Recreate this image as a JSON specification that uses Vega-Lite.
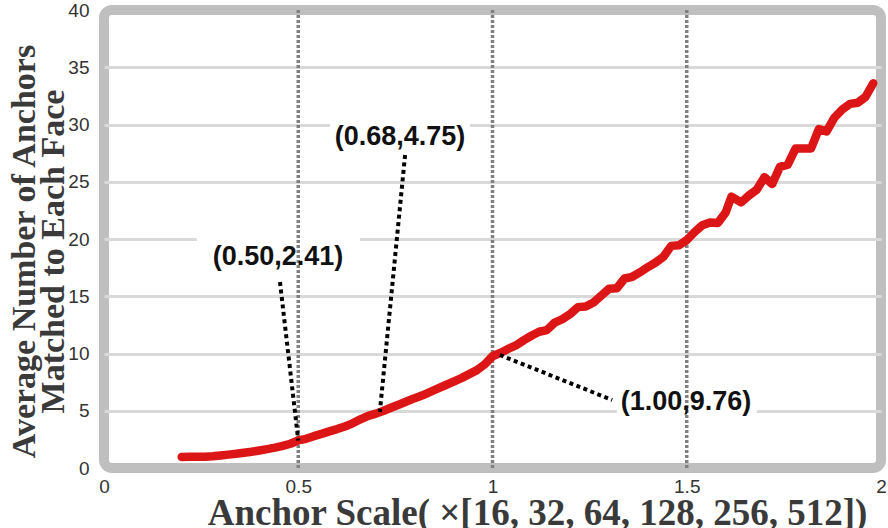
{
  "$schema": "https://vega.github.io/schema/vega-lite/v6.json",
  "width": 777,
  "height": 458,
  "autosize": {"type": "none"},
  "padding": {"left": 104, "top": 10, "right": 7, "bottom": 60},
  "background": "white",
  "config": {
    "view": {"stroke": "#bfbfbf", "strokeWidth": 10, "cornerRadius": 8},
    "axis": {"labelFont": "Liberation Sans", "labelFontSize": 19, "labelColor": "#333333", "labelFontWeight": "normal", "ticks": false, "domain": false}
  },
  "datasets": {
    "curve": [
      {"x": 0.20, "y": 0.97}, {"x": 0.22, "y": 0.98}, {"x": 0.24, "y": 0.98}, {"x": 0.26, "y": 0.99}, {"x": 0.28, "y": 1.02},
      {"x": 0.30, "y": 1.10}, {"x": 0.32, "y": 1.17}, {"x": 0.34, "y": 1.24}, {"x": 0.36, "y": 1.33}, {"x": 0.38, "y": 1.42},
      {"x": 0.40, "y": 1.53}, {"x": 0.42, "y": 1.65}, {"x": 0.44, "y": 1.78}, {"x": 0.46, "y": 1.93}, {"x": 0.48, "y": 2.12},
      {"x": 0.50, "y": 2.41}, {"x": 0.52, "y": 2.55}, {"x": 0.54, "y": 2.78}, {"x": 0.56, "y": 2.98}, {"x": 0.58, "y": 3.20},
      {"x": 0.60, "y": 3.40}, {"x": 0.62, "y": 3.63}, {"x": 0.64, "y": 3.90}, {"x": 0.66, "y": 4.25}, {"x": 0.68, "y": 4.55},
      {"x": 0.70, "y": 4.75}, {"x": 0.72, "y": 5.00}, {"x": 0.74, "y": 5.28}, {"x": 0.76, "y": 5.55}, {"x": 0.78, "y": 5.83},
      {"x": 0.80, "y": 6.10}, {"x": 0.82, "y": 6.35}, {"x": 0.84, "y": 6.65}, {"x": 0.86, "y": 6.95}, {"x": 0.88, "y": 7.25},
      {"x": 0.90, "y": 7.55}, {"x": 0.92, "y": 7.85}, {"x": 0.94, "y": 8.20}, {"x": 0.96, "y": 8.55}, {"x": 0.98, "y": 9.05},
      {"x": 1.00, "y": 9.76}, {"x": 1.02, "y": 10.05}, {"x": 1.04, "y": 10.40}, {"x": 1.06, "y": 10.70}, {"x": 1.08, "y": 11.15},
      {"x": 1.10, "y": 11.55}, {"x": 1.12, "y": 11.90}, {"x": 1.14, "y": 12.05}, {"x": 1.16, "y": 12.70}, {"x": 1.18, "y": 13.00},
      {"x": 1.20, "y": 13.45}, {"x": 1.22, "y": 14.05}, {"x": 1.24, "y": 14.10}, {"x": 1.26, "y": 14.45}, {"x": 1.28, "y": 15.05},
      {"x": 1.30, "y": 15.65}, {"x": 1.32, "y": 15.70}, {"x": 1.34, "y": 16.55}, {"x": 1.36, "y": 16.70}, {"x": 1.38, "y": 17.10},
      {"x": 1.40, "y": 17.55}, {"x": 1.42, "y": 17.95}, {"x": 1.44, "y": 18.45}, {"x": 1.46, "y": 19.40}, {"x": 1.48, "y": 19.45},
      {"x": 1.50, "y": 19.90}, {"x": 1.52, "y": 20.60}, {"x": 1.54, "y": 21.20}, {"x": 1.56, "y": 21.45}, {"x": 1.58, "y": 21.40},
      {"x": 1.60, "y": 22.30}, {"x": 1.615, "y": 23.70}, {"x": 1.64, "y": 23.20}, {"x": 1.66, "y": 23.80}, {"x": 1.68, "y": 24.30},
      {"x": 1.70, "y": 25.40}, {"x": 1.72, "y": 24.80}, {"x": 1.74, "y": 26.30}, {"x": 1.76, "y": 26.50}, {"x": 1.78, "y": 27.90},
      {"x": 1.80, "y": 27.90}, {"x": 1.82, "y": 27.90}, {"x": 1.84, "y": 29.60}, {"x": 1.86, "y": 29.40}, {"x": 1.88, "y": 30.60},
      {"x": 1.90, "y": 31.30}, {"x": 1.92, "y": 31.80}, {"x": 1.94, "y": 31.90}, {"x": 1.96, "y": 32.40}, {"x": 1.98, "y": 33.60}
    ],
    "vlines": [{"x": 0.5}, {"x": 1.0}, {"x": 1.5}],
    "boxes": [
      {"x": 0.239, "x2": 0.659, "y": 15.98, "y2": 20.6},
      {"x": 0.582, "x2": 0.942, "y": 26.9, "y2": 30.83},
      {"x": 1.32, "x2": 1.68, "y": 4.19, "y2": 7.25}
    ],
    "leaders": [
      {"x": 0.453, "y": 16.24, "x2": 0.5, "y2": 2.41},
      {"x": 0.775, "y": 27.34, "x2": 0.71, "y2": 4.89},
      {"x": 1.019, "y": 9.87, "x2": 1.308, "y2": 5.94}
    ],
    "labels": [
      {"x": 0.448, "y": 18.43, "text": "(0.50,2.41)"},
      {"x": 0.762, "y": 28.9, "text": "(0.68,4.75)"},
      {"x": 1.498, "y": 5.76, "text": "(1.00,9.76)"}
    ]
  },
  "layer": [
    {
      "data": {"name": "curve"},
      "mark": {"type": "line", "color": "#e01a1a", "strokeWidth": 0, "opacity": 0},
      "encoding": {
        "x": {
          "field": "x", "type": "quantitative",
          "scale": {"domain": [0, 2], "nice": false, "zero": false},
          "axis": {
            "values": [0, 0.5, 1, 1.5, 2], "format": "~g", "grid": false,
            "labelPadding": 9, "labelFlush": false,
            "title": "Anchor Scale( ×[16, 32, 64, 128, 256, 512])",
            "titleFont": "Liberation Serif", "titleFontWeight": "bold", "titleFontSize": 37, "titleColor": "#3a3a3a",
            "titleX": 433, "titleY": 56, "titleBaseline": "alphabetic", "titleAlign": "center"
          }
        },
        "y": {
          "field": "y", "type": "quantitative",
          "scale": {"domain": [0, 40], "nice": false},
          "axis": {
            "values": [0, 5, 10, 15, 20, 25, 30, 35, 40], "grid": true,
            "gridColor": "#d9d9d9", "gridWidth": 3,
            "gridOpacity": {"condition": {"test": "datum.value == 0 || datum.value == 40", "value": 0}, "value": 1},
            "labelPadding": 15, "labelFlush": false,
            "title": ["Average Number of Anchors", "Matched to Each Face"],
            "titleFont": "Liberation Serif", "titleFontWeight": "bold", "titleFontSize": 34, "titleColor": "#3a3a3a",
            "titleLineHeight": 29, "titleAngle": -90, "titleAlign": "center", "titleBaseline": "alphabetic",
            "titleX": -70, "titleY": 241
          }
        }
      }
    },
    {
      "data": {"name": "boxes"},
      "mark": {"type": "rect", "color": "white"},
      "encoding": {
        "x": {"field": "x", "type": "quantitative"}, "x2": {"field": "x2"},
        "y": {"field": "y", "type": "quantitative"}, "y2": {"field": "y2"}
      }
    },
    {
      "data": {"name": "vlines"},
      "mark": {"type": "rule", "color": "#808080", "strokeWidth": 3.5, "strokeDash": [3, 2]},
      "encoding": {"x": {"field": "x", "type": "quantitative"}}
    },
    {
      "data": {"name": "curve"},
      "mark": {"type": "line", "color": "#dc1616", "strokeWidth": 8.5, "strokeCap": "round", "strokeJoin": "round"},
      "encoding": {
        "x": {"field": "x", "type": "quantitative"},
        "y": {"field": "y", "type": "quantitative"}
      }
    },
    {
      "data": {"name": "leaders"},
      "mark": {"type": "rule", "color": "black", "strokeWidth": 4, "strokeDash": [4, 3.5]},
      "encoding": {
        "x": {"field": "x", "type": "quantitative"}, "x2": {"field": "x2"},
        "y": {"field": "y", "type": "quantitative"}, "y2": {"field": "y2"}
      }
    },
    {
      "data": {"name": "labels"},
      "mark": {"type": "text", "font": "Liberation Sans", "fontWeight": "bold", "fontSize": 27, "color": "#111111", "align": "center", "baseline": "middle"},
      "encoding": {
        "x": {"field": "x", "type": "quantitative"},
        "y": {"field": "y", "type": "quantitative"},
        "text": {"field": "text"}
      }
    }
  ]
}
